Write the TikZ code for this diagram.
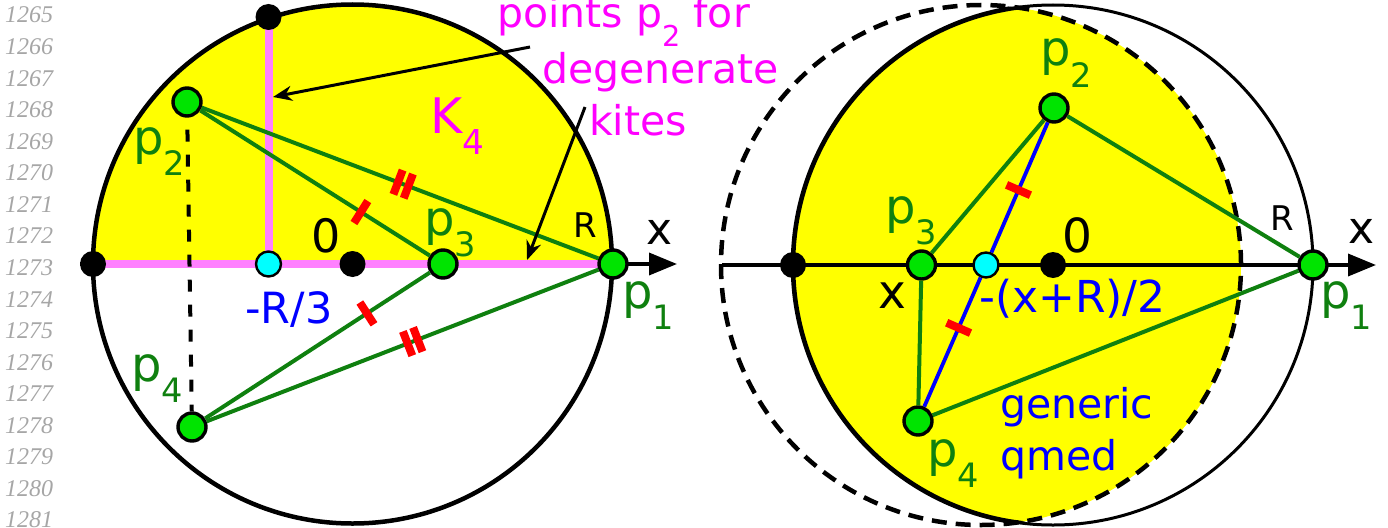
\documentclass[tikz,border=0pt]{standalone}
\usepackage{fontspec,graphicx}
\setmainfont{DejaVu Sans}
\newfontfamily\lnfont{Liberation Serif}
\usetikzlibrary{arrows.meta,backgrounds}
\definecolor{kyellow}{HTML}{FFFF00}
\definecolor{dotgreen}{HTML}{00E400}
\definecolor{lgreen}{HTML}{0F800F}
\definecolor{kpink}{HTML}{FF80FF}
\definecolor{kmag}{HTML}{FF00FF}
\definecolor{kcyan}{HTML}{00FFFF}
\newcommand\lsub[1]{\raisebox{-.44em}{\scalebox{.7}{#1}}}
\newcommand\fs[1]{\fontsize{#1}{#1}\selectfont}

\begin{document}
\begin{tikzpicture}[x=1pt,y=-1pt,
 pdot/.style={circle,draw,line width=3.4pt,fill=dotgreen,minimum size=28pt,inner sep=0},
 bdot/.style={circle,fill=black,minimum size=26pt,inner sep=0},
 mdot/.style={circle,draw,line width=2.4pt,fill=kcyan,minimum size=25pt,inner sep=0},
 seg/.style={lgreen,line width=4pt},
 hatch/.style={sloped,fill=red,inner sep=0,minimum width=8pt,minimum height=26pt},
 lab/.style={anchor=base west,inner sep=0,text=lgreen,font=\fs{48}},
 txt/.style={anchor=base,inner sep=0,font=\fs{#1}},
 ptr/.style={line width=3pt,-{Stealth[length=19pt,width=15pt]}},
 xaxis/.style={line width=3.6pt,-{Triangle[length=28pt,width=22pt]}}]
\useasboundingbox (0,0) rectangle (1388,527);
\foreach \i in {0,...,16} \node[anchor=base west,inner sep=0,text=gray!70,font=\lnfont\itshape\fs{24}] (ln\i) at (5,{23+31.56*\i}) {\the\numexpr1265+\i\relax};

% left picture
\node[bdot] (lA) at (93,264) {};\node[bdot] (lT) at (268.5,17) {};\node[mdot] (lM) at (268.5,264) {};\node[bdot] (lO) at (352.5,264) {};
\node[pdot] (lp1) at (613,264) {};\node[pdot] (lp2) at (187,102) {};\node[pdot] (lp3) at (443,264) {};\node[pdot] (lp4) at (192,427) {};
\coordinate (lx0) at (80,264);\coordinate (lx1) at (677,264);
\begin{pgfonlayer}{background}
\begin{scope}\clip (80,0) rectangle (640,264);\fill[kyellow] (lO) circle (259.5pt);\end{scope}
\draw[line width=4.5pt] (lO) circle (259.5pt);
\draw[xaxis] (lx0) -- (lx1);
\draw[kpink,line width=8pt] (lA.center) -- (lp1.center) (lT.center) -- (lM.center);
\end{pgfonlayer}
\draw[line width=4pt,dash pattern=on 12pt off 13pt,shorten <=12pt] (lp2) -- (lp4);
\draw[seg] (lp2) -- node[hatch,pos=.495]{} node[hatch,pos=.521]{} (lp1);
\draw[seg] (lp2) -- node[hatch,pos=.70]{} (lp3);
\draw[seg] (lp4) -- node[hatch,pos=.72]{} (lp3);
\draw[seg] (lp4) -- node[hatch,pos=.513]{} node[hatch,pos=.539]{} (lp1);
\node[lab] (tp1L) at (622,308) {p\lsub{1}};\node[lab] (tp2L) at (133,154) {p\lsub{2}};
\node[lab] (tp3L) at (424,235) {p\lsub{3}};\node[lab] (tp4L) at (131,381) {p\lsub{4}};
\node[txt=46] (t0L) at (326.5,252) {0};\node[txt=34] (tRL) at (585,237) {R};\node[txt=44] (txL) at (660,244) {x};
\node[txt=43,text=blue] (tmL) at (289,323) {-R/3};
\node[anchor=base west,inner sep=0,text=kmag,font=\fs{49}] (tK) at (430,133) {K\lsub{4}};
\node[anchor=base west,inner sep=0,text=kmag,font=\fs{41}] (tpts) at (497,28) {points p\lsub{2} for};
\node[anchor=base west,inner sep=0,text=kmag,font=\fs{41}] (tdeg) at (542,83) {degenerate};
\node[anchor=base west,inner sep=0,text=kmag,font=\fs{41}] (tkit) at (589,135) {kites};
\coordinate (a1) at (530,47);\coordinate (b1) at (273,97);\coordinate (a2) at (585,107);\coordinate (b2) at (527,260);
\draw[ptr] (a1) -- (b1);\draw[ptr] (a2) -- (b2);

% right picture
\node[bdot] (rA) at (793,265) {};\node[mdot] (rM) at (986,265) {};\node[bdot] (rO) at (1053,265) {};
\node[pdot] (rp1) at (1313,265) {};\node[pdot] (rp2) at (1054,108) {};\node[pdot] (rp3) at (921.5,265) {};\node[pdot] (rp4) at (918,421) {};
\coordinate (rc) at (981,265);\coordinate (rx0) at (722,265);\coordinate (rx1) at (1376,265);
\begin{pgfonlayer}{background}
\begin{scope}\clip (rc) circle (260pt);\fill[kyellow] (rO) circle (260pt);\draw[line width=4.6pt] (rO) circle (260pt);\end{scope}
\draw[line width=3pt] (rO) circle (260pt);
\draw[line width=4.5pt,dash pattern=on 15pt off 9pt] (rc) circle (260pt);
\draw[xaxis] (rx0) -- (rx1);
\end{pgfonlayer}
\draw[seg] (rp2) -- (rp3) -- (rp4) -- (rp1) -- (rp2);
\draw[blue,line width=3.8pt] (rp2) -- node[hatch,pos=.52]{} (rM) -- node[hatch,pos=.39]{} (rp4);
\node[lab] (tp1R) at (1320,308) {p\lsub{1}};\node[lab] (tp2R) at (1040,66) {p\lsub{2}};
\node[lab] (tp3R) at (885,223) {p\lsub{3}};\node[lab] (tp4R) at (927,466) {p\lsub{4}};
\node[txt=47] (t0R) at (1077.5,252) {0};\node[txt=34] (tRR) at (1282.5,230) {R};\node[txt=44] (txR) at (1361,243) {x};
\node[txt=47] (tx) at (892.5,308) {x};
\node[anchor=base west,inner sep=0,text=blue,font=\fs{44}] (tmR) at (979,312) {-(x+R)/2};
\node[anchor=base west,inner sep=0,text=blue,font=\fs{41}] (tgen) at (1000,418) {generic};
\node[anchor=base west,inner sep=0,text=blue,font=\fs{41}] (tqm) at (1000,470) {qmed};
\end{tikzpicture}
\end{document}
